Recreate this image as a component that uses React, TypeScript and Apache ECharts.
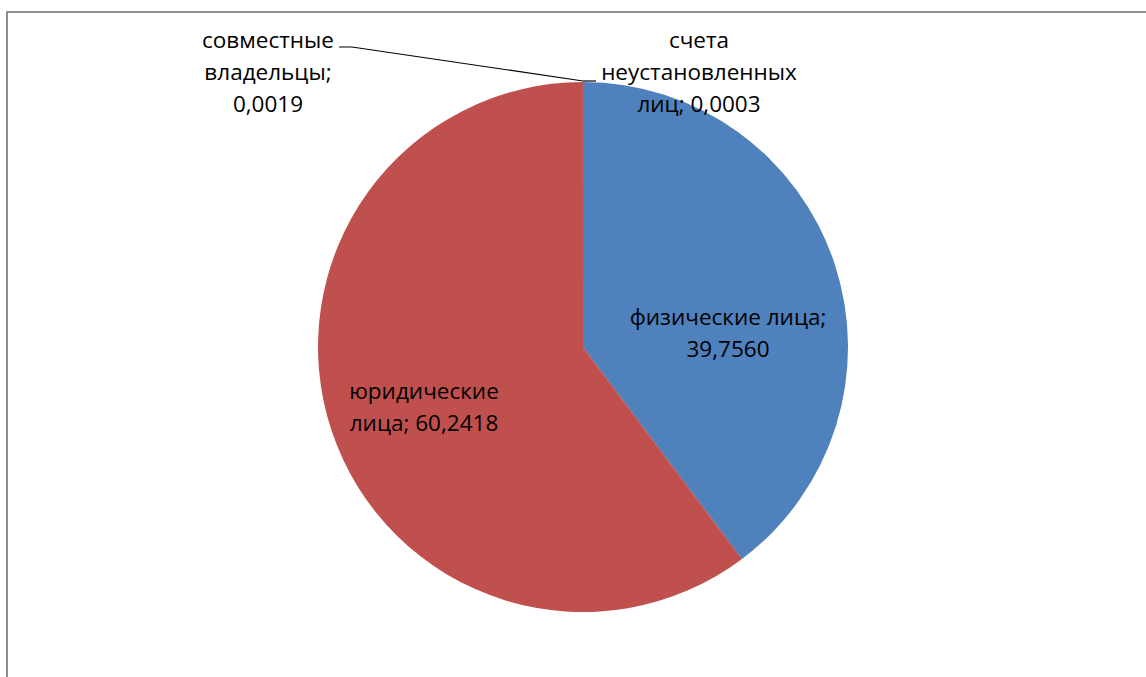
import React, { useEffect, useRef } from "react";
import * as echarts from "echarts";

const names = [
  "физические лица",
  "юридические лица",
  "совместные владельцы",
  "счета неустановленных лиц",
];
const values = [39.756, 60.2418, 0.0019, 0.0003];
const colors = ["#4F81BD", "#C0504D", "#9BBB59", "#8064A2"];
const labelTexts = [
  "физические лица;\n39,7560",
  "юридические\nлица; 60,2418",
  "совместные\nвладельцы;\n0,0019",
  "счета\nнеустановленных\nлиц; 0,0003",
];

export default function App() {
  const ref = useRef<HTMLDivElement>(null);
  useEffect(() => {
    const chart = echarts.init(ref.current!, null, { renderer: "svg" });
    const labelPos = [
      { x: 728, y: 332 },
      { x: 424, y: 406 },
      { x: 268, y: 71 },
      { x: 699, y: 71 },
    ];
    const linePts: any = [
      null,
      null,
      [[583, 81], [352, 47], [339, 47]],
      [[583, 81], [590, 81], [596, 81]],
    ];
    chart.setOption({
      animation: false,
      graphic: [
        {
          type: "polyline",
          shape: { points: [[7, 700], [7, 12], [1200, 12]] },
          style: { fill: "none", stroke: "#8e8e8e", lineWidth: 2 },
          silent: true,
        },
      ],
      series: [
        {
          type: "pie",
          center: [583, 347],
          radius: 265,
          startAngle: 90,
          clockwise: true,
          avoidLabelOverlap: false,
          itemStyle: { borderWidth: 0 },
          label: {
            show: true,
            position: "outside",
            fontFamily: "Open Sans",
            fontSize: 22.5,
            lineHeight: 32,
            color: "#000",
            align: "center",
            formatter: (p: any) => labelTexts[p.dataIndex],
          },
          labelLine: {
            show: true,
            lineStyle: { color: "#000", width: 1.2 },
          },
          labelLayout: (p: any) => {
            const i = p.dataIndex;
            const o: any = {
              x: labelPos[i].x,
              y: labelPos[i].y,
              align: "center",
              verticalAlign: "middle",
            };
            if (linePts[i]) o.labelLinePoints = linePts[i];
            return o;
          },
          data: names.map((n, i) => ({
            name: n,
            value: values[i],
            itemStyle: { color: colors[i] },
            labelLine: { show: i >= 2 },
          })),
        },
      ],
    });
    return () => chart.dispose();
  }, []);
  return (
    <div
      ref={ref}
      style={{ position: "absolute", left: 0, top: 0, width: 1146, height: 677 }}
    />
  );
}
